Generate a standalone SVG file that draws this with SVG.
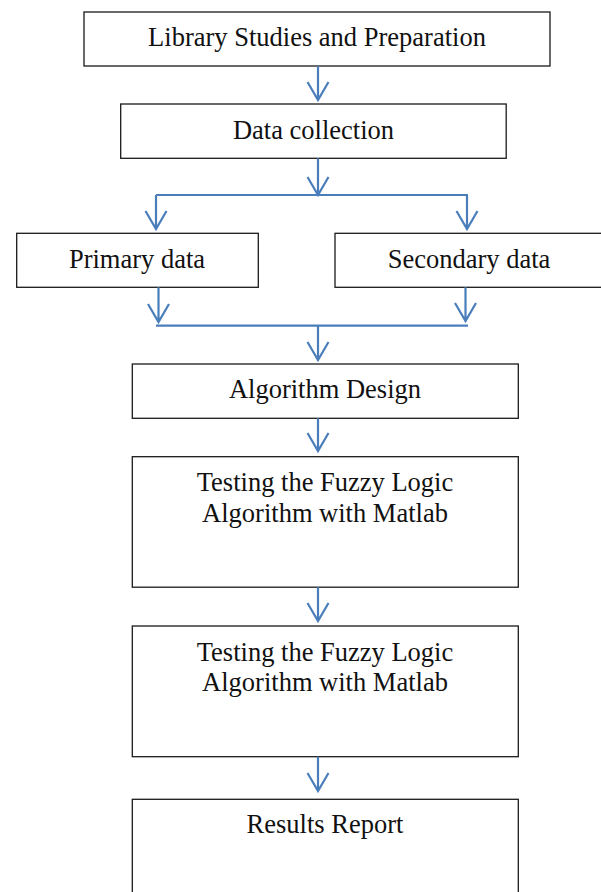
<svg xmlns="http://www.w3.org/2000/svg" width="601" height="892" viewBox="0 0 601 892">
<style>
.box{fill:#ffffff;stroke:#1a1a1a;stroke-width:1.3}
.t{font-family:"Liberation Serif","Times New Roman",serif;font-size:26.5px;fill:#111;text-anchor:middle}
.c{fill:none;stroke:#4a7ebb;stroke-width:2.2;stroke-linejoin:miter}
</style>
<rect width="601" height="892" fill="#ffffff"/>
<g id="n1"><rect class="box" x="84" y="12" width="466" height="54"/><text class="t" x="317" y="45.7">Library Studies and Preparation</text></g>
<g id="n2"><rect class="box" x="120.7" y="104" width="385.5" height="54.3"/><text class="t" x="313.5" y="139.3">Data collection</text></g>
<g id="n3"><rect class="box" x="16.7" y="233.3" width="241.6" height="54"/><text class="t" x="137" y="267.7">Primary data</text></g>
<g id="n4"><rect class="box" x="335" y="233.3" width="268" height="54"/><text class="t" x="469" y="267.7">Secondary data</text></g>
<g id="n5"><rect class="box" x="132.3" y="364" width="386" height="54.3"/><text class="t" x="325" y="398.3">Algorithm Design</text></g>
<g id="n6"><rect class="box" x="132.3" y="456.7" width="386" height="130.5"/><text class="t" x="325" y="490.7">Testing the Fuzzy Logic</text><text class="t" x="325" y="521.7">Algorithm with Matlab</text></g>
<g id="n7"><rect class="box" x="132.3" y="626" width="386" height="130.7"/><text class="t" x="325" y="661">Testing the Fuzzy Logic</text><text class="t" x="325" y="690.7">Algorithm with Matlab</text></g>
<g id="n8"><rect class="box" x="132.3" y="799.3" width="386" height="100"/><text class="t" x="325" y="833.3">Results Report</text></g>
<g id="connectors">
<path class="c" d="M318,66 V100 M307.5,82 L318,100 L328.5,82"/>
<path class="c" d="M318,158.3 V195 M307.5,177 L318,195 L328.5,177"/>
<path class="c" d="M156,195 H468"/>
<path class="c" d="M156,195 V229 M145.5,211 L156,229 L166.5,211"/>
<path class="c" d="M467,195 V229 M456.5,211 L467,229 L477.5,211"/>
<path class="c" d="M158.5,287.3 V322 M148,304 L158.5,322 L169,304"/>
<path class="c" d="M465.5,287.3 V321 M455,303 L465.5,321 L476,303"/>
<path class="c" d="M156,325.7 H468"/>
<path class="c" d="M318,325.7 V360 M307.5,342 L318,360 L328.5,342"/>
<path class="c" d="M318,418.3 V451 M307.5,433 L318,451 L328.5,433"/>
<path class="c" d="M318,587.2 V621 M307.5,603 L318,621 L328.5,603"/>
<path class="c" d="M318,756.7 V791 M307.5,773 L318,791 L328.5,773"/>
</g>
</svg>
